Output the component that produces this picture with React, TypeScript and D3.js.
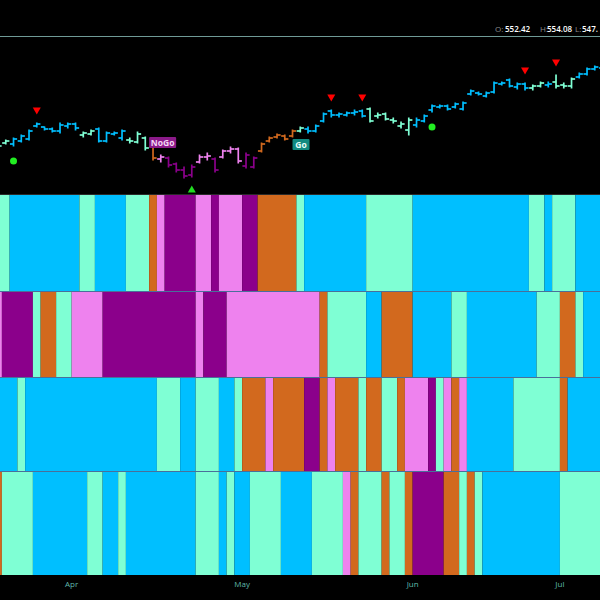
import * as d3 from "d3";

// trading days shown, mid March to early July 2024
const dates = [
  "2024-03-15", "2024-03-18", "2024-03-19", "2024-03-20", "2024-03-21", "2024-03-22",
  "2024-03-25", "2024-03-26", "2024-03-27", "2024-03-28",
  "2024-04-01", "2024-04-02", "2024-04-03", "2024-04-04", "2024-04-05",
  "2024-04-08", "2024-04-09", "2024-04-10", "2024-04-11", "2024-04-12",
  "2024-04-15", "2024-04-16", "2024-04-17", "2024-04-18", "2024-04-19",
  "2024-04-22", "2024-04-23", "2024-04-24", "2024-04-25", "2024-04-26",
  "2024-04-29", "2024-04-30",
  "2024-05-01", "2024-05-02", "2024-05-03", "2024-05-06", "2024-05-07",
  "2024-05-08", "2024-05-09", "2024-05-10", "2024-05-13", "2024-05-14",
  "2024-05-15", "2024-05-16", "2024-05-17", "2024-05-20", "2024-05-21",
  "2024-05-22", "2024-05-23", "2024-05-24", "2024-05-28", "2024-05-29",
  "2024-05-30", "2024-05-31",
  "2024-06-03", "2024-06-04", "2024-06-05", "2024-06-06", "2024-06-07",
  "2024-06-10", "2024-06-11", "2024-06-12", "2024-06-13", "2024-06-14",
  "2024-06-17", "2024-06-18", "2024-06-20", "2024-06-21", "2024-06-24",
  "2024-06-25", "2024-06-26", "2024-06-27", "2024-06-28",
  "2024-07-01", "2024-07-02", "2024-07-03", "2024-07-05", "2024-07-08", "2024-07-09",
];

const opens = [
  514, 517, 516.5, 518, 519, 525.5, 525, 524, 523, 525.5,
  526.5, 521, 521.5, 524, 518, 521.5, 519.5, 518.5, 517.5, 519.5,
  515, 509, 509.5, 506.5, 503.5, 501, 507.5, 510, 509, 510,
  513, 514, 505.5, 505, 513, 518, 520, 520.5, 520.5, 523,
  524, 523, 528, 533, 531, 531, 532, 533, 534, 530.5,
  531.5, 528.5, 525.5, 523.5, 526, 528, 533.5, 535, 535.5, 535,
  534, 541.5, 542, 540.5, 542.5, 546.5, 548.5, 545, 546.5, 544.5,
  545.5, 546, 547.5, 546, 545.5, 550, 551.5, 554, 554.5,
];
const highs = [
  516, 518.5, 519.5, 521, 523.5, 527, 525, 524.5, 527, 527,
  527, 522.5, 523.5, 524.5, 522.5, 522.5, 523.5, 519.5, 522.5, 520,
  516, 511, 510, 507, 505, 506, 511, 512, 509.5, 513.5,
  515, 514.5, 512, 510, 517, 520, 521.5, 521, 523.5, 525,
  525, 526, 532, 533.5, 532, 532.5, 533.5, 533.5, 534.5, 532,
  532, 529.5, 527.5, 529.5, 529.5, 531, 536, 536, 536, 537,
  537.5, 543.5, 542.5, 542.5, 547.5, 547.5, 549, 547, 547, 546,
  547.5, 547.5, 551, 547, 549.5, 552, 554.5, 555.5, 555.5,
];
const lows = [
  513.5, 516.5, 515.5, 517.5, 518.5, 525, 523.5, 522.5, 522, 524.5,
  523.5, 520, 521, 517.5, 517.5, 521, 518.5, 517, 517, 513.5,
  508.5, 507.5, 505, 502.5, 499.5, 500, 507, 508.5, 502.5, 509.5,
  512, 507, 504.5, 504.5, 512.5, 517.5, 519.5, 518.5, 520, 522.5,
  522, 522.5, 527.5, 530, 530, 530.5, 531, 530, 527.5, 529.5,
  528.5, 527, 524.5, 521, 525, 527.5, 532.5, 534.5, 533.5, 534.5,
  533.5, 541, 541, 540, 542, 546, 545, 544, 543.5, 543.5,
  545, 545, 544.5, 544.5, 544.5, 549.5, 551, 553.5, 552.5,
];
const closes = [
  515.5, 518, 519, 520.5, 523, 526.5, 524, 523, 526, 526.5,
  524.5, 522, 523, 518, 522, 522, 523, 518, 521.5, 514.5,
  509.5, 510, 506, 503.5, 500.5, 505, 510, 510.5, 503.5, 513,
  514, 508, 511, 509.5, 516.5, 519.5, 521, 519, 523, 524.5,
  523, 525.5, 531.5, 531, 531.5, 532, 532.5, 530.5, 528, 531,
  529, 528, 526.5, 528.5, 528.5, 530.5, 535.5, 535.5, 534, 536.5,
  537, 543, 541.5, 542, 547, 547, 545.5, 546.5, 544.5, 545.5,
  547, 546.5, 545.5, 545.5, 549, 551.5, 554, 555, 553.5,
];

// trend state per bar for each panel: A weak go, B strong go, O go fish, V weak nogo, P strong nogo
const trendColors = "AABBBBBBBBBAABBBBAAAOVPPPPVVPVVVPPOOOOOABBBBBBBBAAAAAABBBBBBBBBBBBBBBAABAAABBBB";
const band2 = "VPPPPAOOAAVVVVPPPPPPPPPPPPVPPPVVVVVVVVVVVVOAAAAABBOOOOBBBBBAABBBBBBBBBAAAOOABBB";
const band3 = "BBBABBBBBBBBBBBBBBBBBAAABBAAABBAOOOVOOOOPPOVOOOAOOAAOVVVPAVOVBBBBBBAAAAAAOBBBBB";
const band4 = "OAAAABBBBBBBAABBABBBBBBBBBAAABABBAAAABBBBAAAAVOAAAOAAOPPPPOOAOABBBBBBBBBBAAAAAA";

const goColor: Record<string, string> = {
  A: "#7FFFD4",
  B: "#00BFFF",
  O: "#D2691E",
  V: "#EE82EE",
  P: "#8B008B",
};

const sellSignals = [5, 43, 47, 68, 72];
const buySignals = [25];
const dotSignals = [2, 56];

const monthDates = ["2024-04-01", "2024-05-01", "2024-06-03", "2024-07-01"];
const monthLabels = ["Apr", "May", "Jun", "Jul"];

// merge neighbouring bars of the same state so the strips have no seams
function runs(codes: string) {
  const out: { start: number; end: number; code: string }[] = [];
  for (let i = 0; i < codes.length; i++) {
    const last = out[out.length - 1];
    if (last && last.code === codes[i]) last.end = i;
    else out.push({ start: i, end: i, code: codes[i] });
  }
  return out;
}

export default function App() {
  const width = 600;
  const height = 600;
  const step = 7.75;
  const x0 = -5.85;

  const xScale = d3
    .scaleBand()
    .domain(dates)
    .range([x0, x0 + dates.length * step])
    .padding(0);
  const bw = xScale.bandwidth();

  const yScale = d3.scaleLinear().domain([491.5, 570]).range([194, 37]);

  const panels = [
    { codes: trendColors, y0: 195, y1: 291 },
    { codes: band2, y0: 292, y1: 377 },
    { codes: band3, y0: 378, y1: 471 },
    { codes: band4, y0: 472, y1: 575 },
  ];

  const cx = (i: number) => (xScale(dates[i]) ?? 0) + bw / 2;

  const bars = dates.map((d, i) => {
    const c = cx(i);
    const col = goColor[trendColors[i]];
    return (
      <g key={d} stroke={col} strokeWidth={1.7}>
        <line x1={c} x2={c} y1={yScale(highs[i]) - 0.5} y2={yScale(lows[i]) + 0.5} />
        <line x1={c - 3.6} x2={c} y1={yScale(opens[i])} y2={yScale(opens[i])} />
        <line x1={c} x2={c + 3.6} y1={yScale(closes[i])} y2={yScale(closes[i])} />
      </g>
    );
  });

  const strips = panels.map((p, k) => (
    <g key={k}>
      {runs(p.codes).map((r) => {
        const xs = xScale(dates[r.start]) ?? 0;
        const xe = (xScale(dates[r.end]) ?? 0) + bw;
        return (
          <rect
            key={r.start}
            x={xs}
            y={p.y0}
            width={xe - xs}
            height={p.y1 - p.y0}
            fill={goColor[r.code]}
          />
        );
      })}
    </g>
  ));

  const tri = (c: number, yy: number, down: boolean) =>
    down
      ? `M${c - 4},${yy - 3.5}L${c + 4},${yy - 3.5}L${c},${yy + 3.5}Z`
      : `M${c - 4},${yy + 3.5}L${c + 4},${yy + 3.5}L${c},${yy - 3.5}Z`;

  return (
    <svg
      width={width}
      height={height}
      style={{ position: "absolute", left: 0, top: 0, background: "#000" }}
      fontFamily="'Open Sans', Roboto, sans-serif"
    >
      <rect width={width} height={height} fill="#000" />
      <line x1={0} x2={width} y1={36.5} y2={36.5} stroke="#6f9a96" strokeWidth={1} />
      <g fontSize={8} fontWeight={600}>
        <text x={495} y={32} fill="#8c8c8c" fontWeight={400}>O:</text>
        <text x={505} y={32} fill="#ffffff">552.42</text>
        <text x={540} y={32} fill="#8c8c8c" fontWeight={400}>H:</text>
        <text x={547} y={32} fill="#ffffff">554.08</text>
        <text x={575} y={32} fill="#8c8c8c" fontWeight={400}>L:</text>
        <text x={582} y={32} fill="#ffffff">547.</text>
      </g>

      {bars}

      {sellSignals.map((i) => (
        <path key={"s" + i} d={tri(cx(i), yScale(highs[i]) - 12, true)} fill="#ff0000" />
      ))}
      {buySignals.map((i) => (
        <path key={"b" + i} d={tri(cx(i), yScale(lows[i]) + 12, false)} fill="#22dd22" />
      ))}
      {dotSignals.map((i) => (
        <circle key={"d" + i} cx={cx(i)} cy={yScale(lows[i]) + 15} r={3.5} fill="#22ee22" />
      ))}

      <g fontSize={8.5} fontWeight={700}>
        <rect x={xScale(dates[20])} y={137} width={27} height={11} fill="#8B1A89" rx={1} />
        <text x={(xScale(dates[20]) ?? 0) + 13.5} y={145.5} textAnchor="middle" fill="#f5d6f5">NoGo</text>
        <rect x={cx(38)} y={139} width={17} height={11} fill="#118a80" rx={1} />
        <text x={cx(38) + 8.5} y={147.5} textAnchor="middle" fill="#e8fffa">Go</text>
      </g>

      <rect x={0} y={194} width={width} height={1} fill="#2a2a2a" />
      {strips}
      {panels.slice(1).map((p, k) => (
        <rect key={k} x={0} y={p.y0 - 1} width={width} height={1} fill="#4a6f9a" />
      ))}

      {monthDates.map((d, i) => (
        <text
          key={d}
          x={xScale(d)}
          y={587}
          textAnchor="middle"
          fontSize={8}
          fill="#5fb8ab"
        >
          {monthLabels[i]}
        </text>
      ))}
    </svg>
  );
}
